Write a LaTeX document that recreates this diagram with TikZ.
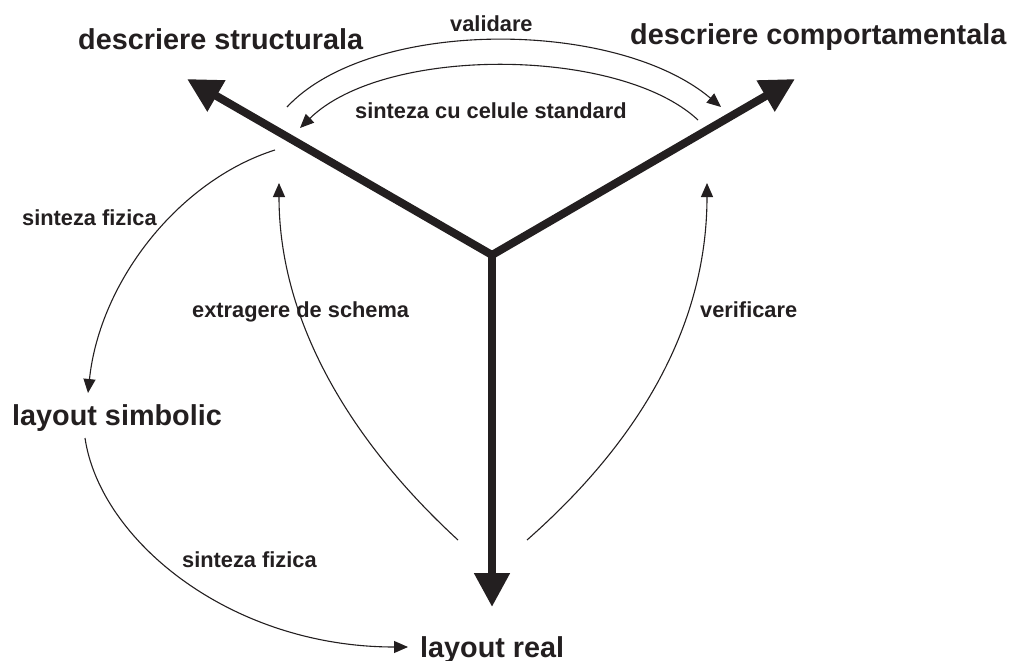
\documentclass[tikz,border=0pt]{standalone}
\usepackage{fontspec}
\setmainfont{Liberation Sans}
\usetikzlibrary{arrows.meta}
\definecolor{ink}{RGB}{35,31,32}
\tikzset{
  bighead/.tip={Triangle[length=34pt,width=34pt]},
  smallhead/.tip={Triangle[length=14pt,width=12pt]}
}
\begin{document}
\begin{tikzpicture}[x=1pt,y=-1pt, color=ink,
  big/.style={font=\fontsize{28.8}{30}\selectfont\bfseries, inner sep=0pt, anchor=base west, text=ink},
  small/.style={font=\fontsize{21.8}{23}\selectfont\bfseries, inner sep=0pt, anchor=base west, text=ink},
  axis/.style={draw=ink, fill=ink, line width=8pt, line join=miter},
  flow/.style={draw=ink, line width=1.1pt, -{smallhead}}]
\useasboundingbox (0,0) rectangle (1012,661);

% the three axes of the Y chart
\coordinate (O) at (492,255);
\coordinate (S) at (187,79);
\coordinate (B) at (795,79);
\coordinate (R) at (492,607);
\draw[axis, fill=none, {bighead}-{bighead}] (S) -- (O) -- (B);
\draw[axis, fill=none, -{bighead}] (O) -- (R);

% axis labels
\node[big] (ds) at (78,50) {descriere structurala};
\node[big] (dc) at (630,45) {descriere comportamentala};
\node[big] (ls) at (12,425) {layout simbolic};
\node[big] (lr) at (420,657) {layout real};

% transformation labels
\node[small] (val) at (450,32) {validare};
\node[small] (scs) at (355,118) {sinteza cu celule standard};
\node[small] (sf1) at (22,225) {sinteza fizica};
\node[small] (ext) at (192,317) {extragere de schema};
\node[small] (ver) at (700,317) {verificare};
\node[small] (sf2) at (182,567) {sinteza fizica};

% end points of the transformation arcs
\coordinate (valA) at (287,107);
\coordinate (valB) at (721,107);
\coordinate (scsA) at (698,120);
\coordinate (scsB) at (300,128);
\coordinate (sfA) at (275,150);
\coordinate (sfB) at (88,393);
\coordinate (lsA) at (85,438);
\coordinate (lrB) at (408,647);
\coordinate (extA) at (458,540);
\coordinate (extB) at (279,183);
\coordinate (verA) at (527,540);
\coordinate (verB) at (707,183);

% transformation arcs
\draw[flow] (valA) .. controls (370,18) and (615,18) .. (valB);
\draw[flow] (scsA) .. controls (620,47) and (385,45) .. (scsB);
\draw[flow] (sfA) .. controls (180,180) and (100,280) .. (sfB);
\draw[flow] (lsA) .. controls (100,540) and (230,647) .. (lrB);
\draw[flow] (extA) .. controls (360,450) and (279,330) .. (extB);
\draw[flow] (verA) .. controls (635,445) and (707,330) .. (verB);
\end{tikzpicture}
\end{document}
